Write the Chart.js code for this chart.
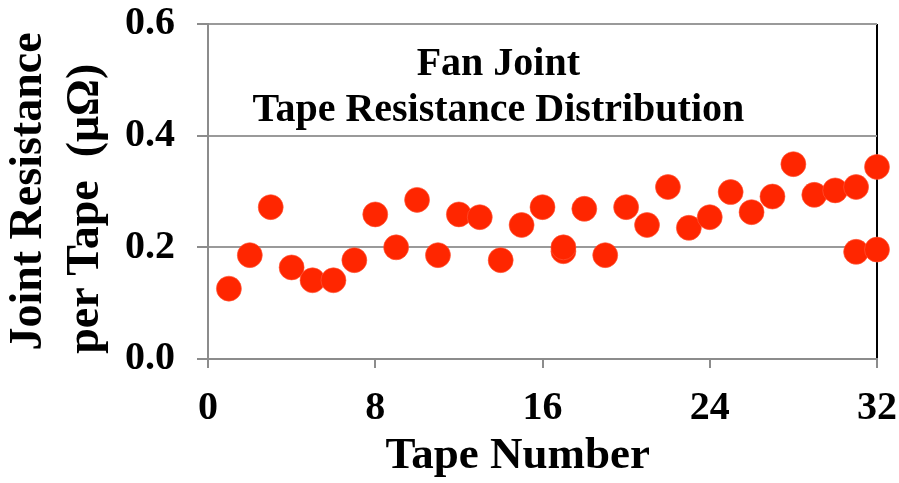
<!DOCTYPE html>
<html>
<head>
<meta charset="utf-8">
<script src="https://cdn.jsdelivr.net/npm/chart.js@4.4.1/dist/chart.umd.min.js"></script>
<style>
  html, body { margin: 0; padding: 0; background: #fff; }
  #wrap { width: 899px; height: 483px; }
</style>
</head>
<body>
<div id="wrap"><canvas id="chart" width="899" height="483"></canvas></div>
<script>
// ---------- data ----------
const tapeNumbers = [1, 2, 3, 4, 5, 6, 7, 8, 9, 10, 11, 12, 13, 14, 15, 16,
                     17, 18, 19, 20, 21, 22, 23, 24, 25, 26, 27, 28, 29, 30, 31, 32];
const resistance = [0.126, 0.186, 0.272, 0.164, 0.141, 0.141, 0.177, 0.259,
                    0.200, 0.285, 0.186, 0.259, 0.254, 0.177, 0.240, 0.272,
                    0.200, 0.269, 0.186, 0.272, 0.240, 0.308, 0.235, 0.254,
                    0.299, 0.263, 0.291, 0.349, 0.294, 0.302, 0.308, 0.344];
// tapes that show a second measurement
const extraTapes = [17, 31, 32];
const extraResistance = [0.193, 0.192, 0.196];

const xTicks = [0, 8, 16, 24, 32];
const yTicks = [0, 0.2, 0.4, 0.6];
const titleLines = ['Fan Joint', 'Tape Resistance Distribution'];
const xTitle = 'Tape Number';
// trailing spaces push the second line down a little, as in the original
const yTitle = ['Joint Resistance', 'per Tape  (\u03BC\u03A9)   '];

const serif = "'Liberation Serif', 'Times New Roman', serif";
const dotColor = 'rgb(255,38,0)';

function toPoints(xs, ys) {
    return xs.map((x, i) => ({ x: x, y: ys[i] }));
}

// chart title sits inside the plot, x-axis title is a bit left of centre
const extraText = {
    id: 'extraText',
    afterDraw(chart) {
        const { ctx, chartArea } = chart;
        ctx.save();
        ctx.fillStyle = '#000';
        ctx.textAlign = 'center';
        ctx.textBaseline = 'middle';
        ctx.font = 'bold 40px ' + serif;
        const cx = chartArea.left + chartArea.width * 0.434;
        titleLines.forEach((line, i) => {
            ctx.fillText(line, cx, chartArea.top + 41 + i * 46);
        });
        ctx.font = 'bold 45px ' + serif;
        ctx.fillText(xTitle, chartArea.left + chartArea.width * 0.463, chartArea.bottom + 97);
        ctx.restore();
    }
};

const pointStyle = {
    backgroundColor: dotColor,
    borderColor: 'rgba(255,90,60,0.6)',
    borderWidth: 1,
    pointRadius: 12.5,
    pointHoverRadius: 12.5,
    clip: false
};

new Chart(document.getElementById('chart'), {
    type: 'scatter',
    data: {
        datasets: [
            Object.assign({ data: toPoints(tapeNumbers, resistance) }, pointStyle),
            Object.assign({ data: toPoints(extraTapes, extraResistance) }, pointStyle)
        ]
    },
    options: {
        responsive: false,
        animation: false,
        layout: { padding: 0 },
        plugins: { legend: { display: false }, tooltip: { enabled: false } },
        scales: {
            x: {
                type: 'linear',
                min: 0, max: 32,
                afterBuildTicks: axis => { axis.ticks = xTicks.map(v => ({ value: v })); },
                afterFit: axis => {
                    axis.height = 124;
                    axis.paddingLeft = 0;
                    axis.paddingRight = 22;
                },
                border: { display: true, color: '#8c8c8c', width: 2 },
                grid: {
                    color: c => (c.tick && c.tick.value === 32) ? '#000' : 'rgba(0,0,0,0)',
                    lineWidth: 2,
                    tickColor: '#8c8c8c',
                    tickLength: 9
                },
                ticks: {
                    color: '#000',
                    padding: 17,
                    maxRotation: 0,
                    font: { family: serif, size: 40, weight: 'bold' }
                }
            },
            y: {
                min: 0, max: 0.6,
                afterBuildTicks: axis => { axis.ticks = yTicks.map(v => ({ value: v })); },
                afterFit: axis => {
                    axis.width = 208;
                    axis.paddingTop = 24;
                    axis.paddingBottom = 0;
                },
                border: { display: true, color: '#8c8c8c', width: 2 },
                grid: {
                    color: '#9a9a9a',
                    lineWidth: 2,
                    tickColor: '#8c8c8c',
                    tickLength: 11
                },
                ticks: {
                    color: '#000',
                    padding: 22,
                    callback: v => v.toFixed(1),
                    font: { family: serif, size: 40, weight: 'bold' }
                },
                title: {
                    display: true,
                    text: yTitle,
                    color: '#000',
                    padding: { top: 0, bottom: 0 },
                    font: { family: serif, size: 46, weight: 'bold', lineHeight: 1.25 }
                }
            }
        }
    },
    plugins: [extraText]
});
</script>
</body>
</html>
